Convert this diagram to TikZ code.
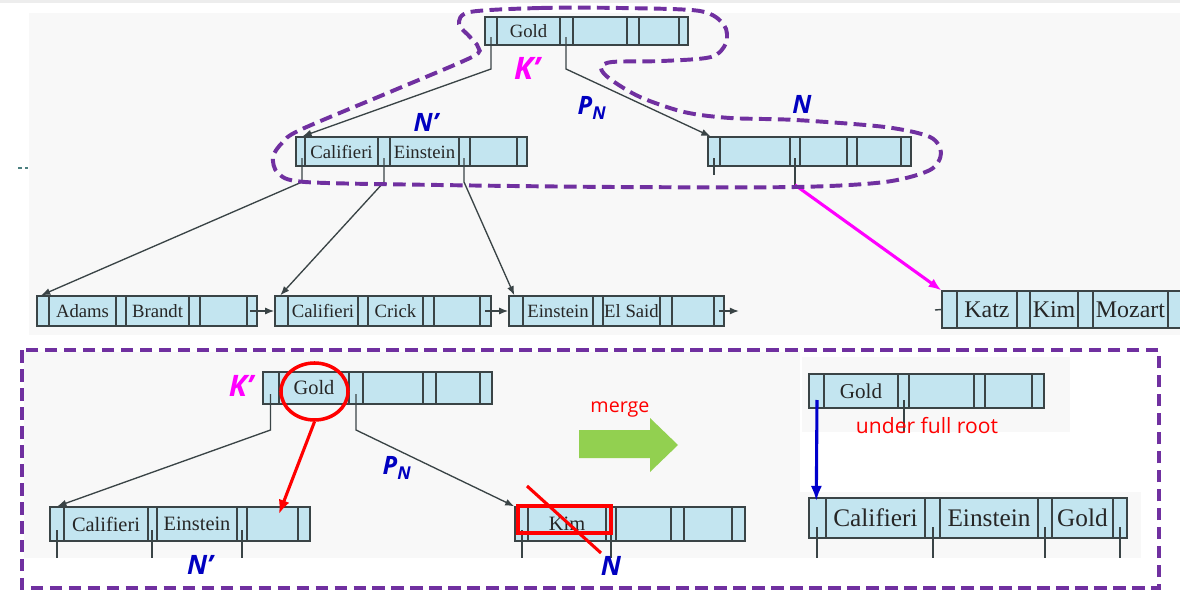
\documentclass[tikz,border=0pt]{standalone}
\usepackage{fontspec}
\setmainfont{Liberation Serif}
\newfontfamily\labelfont{Open Sans}
\usetikzlibrary{arrows.meta,fit,shapes.geometric}
\definecolor{nodeblue}{HTML}{C3E5F0}
\definecolor{edgegray}{HTML}{3A4446}
\definecolor{hullpurple}{HTML}{7030A0}
\definecolor{keymagenta}{HTML}{FF00FF}
\definecolor{labelblue}{HTML}{0000C0}
\definecolor{mergegreen}{HTML}{92D050}
\definecolor{panelgray}{HTML}{F8F8F8}

\begin{document}
\begin{tikzpicture}[x=0.025cm,y=-0.025cm,
  bnode/.style={draw=edgegray,fill=nodeblue,line width=1pt,inner sep=0pt},
  divider/.style={draw=edgegray,line width=1pt},
  keytext/.style={inner sep=0pt,text=black!85,font=\fontsize{13.3}{15}\selectfont},
  ptrline/.style={edgegray,line width=0.95pt,-{Latex[length=6.5pt,width=5pt]}},
  hullline/.style={draw=hullpurple,line width=2.8pt,dash pattern=on 9pt off 4.5pt},
  taglabel/.style={text=labelblue,font=\labelfont\bfseries\itshape\fontsize{18}{21}\selectfont},
  notetext/.style={text=red,font=\labelfont\fontsize{14}{16}\selectfont}]
  \useasboundingbox (0,0) rectangle (1180,598);
  \clip (0,0) rectangle (1180,598);
  % backgrounds
  \fill[black!7] (0,0) rectangle (1180,3);
  \fill[panelgray] (29,13) rectangle (1180,335);
  \fill[panelgray] (24,352) rectangle (800,558);
  \fill[panelgray] (802,357) rectangle (1070,432);
  \fill[panelgray] (800,492) rectangle (1141,558);
  \draw[teal!40!gray,line width=0.8pt,dash pattern=on 3pt off 2pt] (18,168) -- (28,168);

  % upper tree
  \node[bnode,fit={(485,17) (688,45)}] (root) {};
  \foreach \x in {497,560,573,627,639,679} \draw[divider] (\x,17) -- (\x,45);
  \node[keytext] (rootk) at (528.5,31) {Gold};

  \node[bnode,fit={(296,137) (527,166)}] (nl) {};
  \foreach \x in {305,378,390,459,470,517} \draw[divider] (\x,137) -- (\x,166);
  \node[keytext] (nlk1) at (341.5,152) {Califieri};
  \node[keytext] (nlk2) at (424.5,152) {Einstein};

  \node[bnode,fit={(708,137) (911,166)}] (nr) {};
  \foreach \x in {720,790,800,847,857,901} \draw[divider] (\x,137) -- (\x,166);
  \draw[divider] (714,158) -- (714,175);

  \node[bnode,fit={(37,296) (257,326)}] (leafa) {};
  \foreach \x in {49,116,126,189,200,247} \draw[divider] (\x,296) -- (\x,326);
  \node[keytext] (leafak1) at (82.5,311) {Adams};
  \node[keytext] (leafak2) at (157.5,311) {Brandt};

  \node[bnode,fit={(275,296) (491,326)}] (leafb) {};
  \foreach \x in {288,358,368,423,434,480} \draw[divider] (\x,296) -- (\x,326);
  \node[keytext] (leafbk1) at (323,311) {Califieri};
  \node[keytext] (leafbk2) at (395.5,311) {Crick};

  \node[bnode,fit={(509,296) (724,326)}] (leafc) {};
  \foreach \x in {523,593,603,660,672,714} \draw[divider] (\x,296) -- (\x,326);
  \node[keytext] (leafck1) at (558,311) {Einstein};
  \node[keytext] (leafck2) at (631.5,311) {El Said};

  \node[bnode,fit={(942,291) (1192,328)}] (katz) {};
  \foreach \x in {957,1017,1030,1078,1093,1168} \draw[divider] (\x,291) -- (\x,328);
  \node[keytext,font=\fontsize{17}{19}\selectfont] (katzk1) at (987,309.5) {Katz};
  \node[keytext,font=\fontsize{17}{19}\selectfont] (katzk2) at (1054,309.5) {Kim};
  \node[keytext,font=\fontsize{17}{19}\selectfont] (katzk3) at (1130.5,309.5) {Mozart};

  \coordinate (rootp1) at (491,37);
  \coordinate (rootp2) at (566,37);
  \coordinate (nlp1) at (302,158);
  \coordinate (nlp2) at (384,158);
  \coordinate (nlp3) at (464,158);
  \coordinate (nrp2) at (795,158);
  \coordinate (leafanx) at (250,311);
  \coordinate (leafbnx) at (485,311);
  \coordinate (leafcnx) at (719,311);
  \coordinate (leafcend) at (739,311);
  \coordinate (katzin) at (935,310);
  \draw[ptrline] (rootp1) -- ++(0,32) -- ([xshift=0.18cm]nl.north west);
  \draw[ptrline] (rootp2) -- ++(0,32) -- ([xshift=0.08cm]nr.north west);
  \draw[ptrline] (nlp1) -- ++(0,24) -- ([xshift=0.12cm]leafa.north west);
  \draw[ptrline] (nlp2) -- ++(0,24) -- ([xshift=0.15cm]leafb.north west);
  \draw[ptrline] (nlp3) -- ++(0,24) -- ([xshift=0.15cm]leafc.north west);
  \draw[ptrline] (leafanx) -- (leafb.west);
  \draw[ptrline] (leafbnx) -- (leafc.west);
  \draw[ptrline] (leafcnx) -- (leafcend);
  \draw[divider] (katzin) -- (katz.west);
  \draw[edgegray,line width=0.95pt] (nrp2) -- ++(0,27) coordinate (nrdrop);
  \draw[keymagenta,line width=2.2pt,-{Latex[length=9pt,width=7pt]}] (nrdrop) -- (katz.north west);

  \draw[hullline] plot[smooth cycle,tension=0.5] coordinates {(470,12) (540,8) (620,8) (700,11) (724,25) (726,43) (711,57) (662,61) (612,62) (601,68) (610,79) (640,97) (684,112) (730,118) (796,120) (885,127) (930,137) (941,153) (930,170) (885,182) (796,187) (617,187) (439,185) (305,182) (278,173) (273,157) (282,143) (300,130) (390,92) (472,57) (478,47) (470,37) (459,24)};

  \node[taglabel,text=keymagenta,font=\labelfont\bfseries\itshape\fontsize{22}{24}\selectfont] (kprime) at (527,68) {K’};
  \node[taglabel] (nprime) at (426,122) {N’};
  \node[taglabel] (pn) at (592,108) {P\textsubscript{N}};
  \node[taglabel] (nlabel) at (802,104) {N};

  % lower part: before and after the merge
  \draw[hullline] (22,350) rectangle (1159,588);

  \node[bnode,fit={(263,372) (492,404)}] (rootb) {};
  \foreach \x in {279,349,363,423,436,480} \draw[divider] (\x,372) -- (\x,404);
  \node[keytext,font=\fontsize{14.5}{16}\selectfont] (rootbk) at (314,388) {Gold};

  \node[bnode,fit={(50,507) (310,541)}] (nbl) {};
  \foreach \x in {64,148,157,237,247,298} \draw[divider] (\x,507) -- (\x,541);
  \node[keytext,font=\fontsize{14.5}{16}\selectfont] (nblk1) at (106,524) {Califieri};
  \node[keytext,font=\fontsize{14.5}{16}\selectfont] (nblk2) at (197,524) {Einstein};
  \foreach \x in {57,152,242} \draw[divider] (\x,530) -- (\x,558);

  \node[bnode,fit={(515,507) (745,541)}] (nbr) {};
  \foreach \x in {528,606,616,671,684,732} \draw[divider] (\x,507) -- (\x,541);
  \node[keytext,font=\fontsize{14.5}{16}\selectfont] (nbrk1) at (567,524) {Kim};
  \foreach \x in {522,611} \draw[divider] (\x,530) -- (\x,558);

  \coordinate (rootbp1) at (270.5,394);
  \coordinate (rootbp2) at (356,394);
  \draw[ptrline] (rootbp1) -- ++(0,36) -- ([xshift=0.2cm]nbl.north west);
  \draw[ptrline] (rootbp2) -- ++(0,36) -- (nbr.north west);

  \node[ellipse,draw=red,line width=2.5pt,minimum width=1.675cm,minimum height=1.425cm,inner sep=0pt] (goldring) at (314.5,391.5) {};
  \coordinate (slot) at (279,514);
  \draw[red,line width=2.2pt,-{Latex[length=10pt,width=8pt]}] (goldring.south) -- (slot);
  \node[draw=red,line width=2.8pt,inner sep=0pt,fit={(518,506) (611,533)}] (kimbox) {};
  \draw[red,line width=2.2pt] (527,486) -- (601,553);

  \node[taglabel,text=keymagenta,font=\labelfont\bfseries\itshape\fontsize{21}{23}\selectfont] (kprimeb) at (241,386) {K’};
  \node[taglabel,font=\labelfont\bfseries\itshape\fontsize{19}{21}\selectfont] (nprimeb) at (200,565) {N’};
  \node[taglabel] (pnb) at (397,468) {P\textsubscript{N}};
  \node[taglabel,font=\labelfont\bfseries\itshape\fontsize{19}{21}\selectfont] (nlabelb) at (611,566) {N};

  \node[notetext] (merge) at (620,409) {merge};
  \fill[mergegreen] (579,430) -- (650,430) -- (650,418) -- (678,445) -- (650,472) -- (650,458) -- (579,458) -- cycle;

  \node[bnode,fit={(809,374) (1044,408)}] (rootc) {};
  \foreach \x in {824,898,909,974,985,1032} \draw[divider] (\x,374) -- (\x,408);
  \node[keytext,font=\fontsize{15}{17}\selectfont] (rootck) at (861,391) {Gold};
  \draw[divider] (904,400) -- (904,432);
  \node[notetext,font=\labelfont\fontsize{15}{17}\selectfont] (underfull) at (927,426) {under full root};

  \node[bnode,fit={(809,498) (1127,538)}] (merged) {};
  \foreach \x in {826,925,940,1038,1052,1113} \draw[divider] (\x,498) -- (\x,538);
  \node[keytext,font=\fontsize{18}{20}\selectfont] (mergedk1) at (875.5,518) {Califieri};
  \node[keytext,font=\fontsize{18}{20}\selectfont] (mergedk2) at (989,518) {Einstein};
  \node[keytext,font=\fontsize{18}{20}\selectfont] (mergedk3) at (1082.5,518) {Gold};
  \foreach \x in {817,933,1045,1120} \draw[divider] (\x,527) -- (\x,558);

  \coordinate (rootcp1) at (817,400);
  \draw[blue!80!black,line width=2.2pt,-{Latex[length=11pt,width=8pt]}] (rootcp1) -- ([xshift=0.2cm,yshift=-0.1cm]merged.north west);
\end{tikzpicture}
\end{document}
